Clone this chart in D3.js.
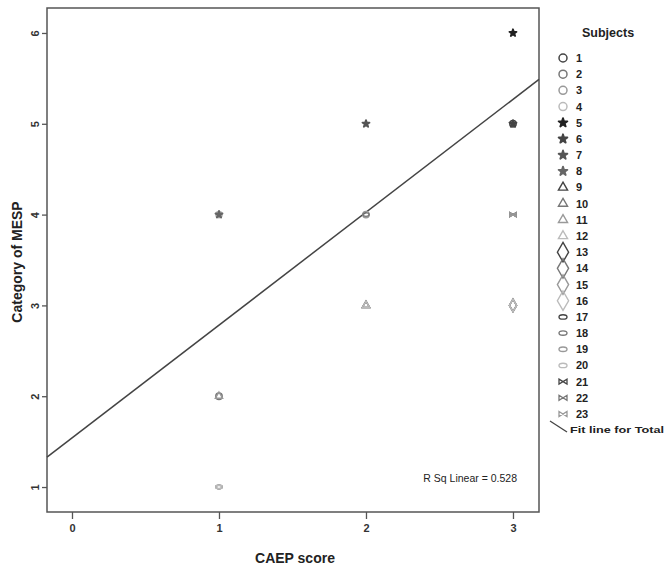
<!DOCTYPE html>
<html>
<head>
<meta charset="utf-8">
<script src="https://d3js.org/d3.v7.min.js"></script>
<style>
body { margin: 0; background: #fff; }
svg { font-family: "Liberation Sans", Arial, sans-serif; }
</style>
</head>
<body>
<svg width="666" height="570"></svg>
<script>
// subjects with their CAEP score and MESP category
var subjects = ["1","2","3","4","5","6","7","8","9","10","11","12","13","14","15","16","17","18","19","20","21","22","23"];
var caep = [3,1,2,1,3,3,2,1,2,2,1,2,3,3,3,3,1,2,1,1,3,3,3];
var mesp = [5,2,4,4,6,5,5,4,3,3,2,3,3,3,3,3,1,4,1,1,4,4,4];
var xTicks = [0,1,2,3];
var yTicks = [1,2,3,4,5,6];
// fit line
var fitIntercept = [1.54];
var fitSlope = [1.243];
var rsq = ["0.528"];

var svg = d3.select("svg");
var pLeft = 47, pRight = 539, pTop = 8, pBottom = 512;

var x = d3.scaleLinear().domain([-0.17, 3.177]).range([pLeft, pRight]);
var y = d3.scaleLinear().domain([0.725, 6.275]).range([pBottom, pTop]);

// marker shape per group of four subjects
var shapeOf = function(i) {
  if (i < 4) return "circle";
  if (i < 8) return "gear";
  if (i < 12) return "triangle";
  if (i < 16) return "diamond";
  if (i < 20) return "ellipse";
  return "bowtie";
};
var shade = function(i) {
  var k = i < 20 ? i % 4 : i - 20;
  if (i >= 4 && i < 8) return ["#222","#444","#555","#666"][k];
  return ["#444","#777","#999","#bbb"][k];
};

function drawMarker(g, i, cx, cy, s) {
  var t = shapeOf(i), c = shade(i);
  if (t == "circle") {
    g.append("circle").attr("cx", cx).attr("cy", cy).attr("r", 4 * s)
      .attr("fill", "none").attr("stroke", c).attr("stroke-width", 1.5);
  } else if (t == "gear") {
    g.append("path").attr("transform", "translate(" + cx + "," + cy + ")")
      .attr("d", d3.symbol().type(d3.symbolStar).size(24 * s * s)())
      .attr("fill", c).attr("stroke", c).attr("stroke-width", 1.8).attr("stroke-linejoin", "round");
  } else if (t == "triangle") {
    g.append("path").attr("transform", "translate(" + cx + "," + cy + ")")
      .attr("d", d3.symbol().type(d3.symbolTriangle).size(36 * s * s)())
      .attr("fill", "none").attr("stroke", c).attr("stroke-width", 1.4);
  } else if (t == "diamond") {
    g.append("path").attr("transform", "translate(" + cx + "," + cy + ")")
      .attr("d", d3.symbol().type(d3.symbolDiamond).size(70 * s * s)())
      .attr("fill", "none").attr("stroke", c).attr("stroke-width", 1.4);
  } else if (t == "ellipse") {
    g.append("ellipse").attr("cx", cx).attr("cy", cy).attr("rx", 4 * s).attr("ry", 2.2 * s)
      .attr("fill", "none").attr("stroke", c).attr("stroke-width", 1.4);
  } else {
    g.append("path").attr("transform", "translate(" + cx + "," + cy + ")")
      .attr("d", "M" + (-4 * s) + "," + (-2.5 * s) + "L" + (4 * s) + "," + (2.5 * s) + "L" + (4 * s) + "," + (-2.5 * s) + "L" + (-4 * s) + "," + (2.5 * s) + "Z")
      .attr("fill", "none").attr("stroke", c).attr("stroke-width", 1.3);
  }
}

// frame
svg.append("rect").attr("x", pLeft).attr("y", pTop)
  .attr("width", pRight - pLeft).attr("height", pBottom - pTop)
  .attr("fill", "#fff").attr("stroke", "#555").attr("stroke-width", 1.5);

// axes
var yAxis = svg.append("g").attr("transform", "translate(" + pLeft + ",0)")
  .call(d3.axisLeft(y).tickValues(yTicks).tickSize(5).tickPadding(3).tickFormat(d3.format("d")));
var xAxis = svg.append("g").attr("transform", "translate(0," + pBottom + ")")
  .call(d3.axisBottom(x).tickValues(xTicks).tickSize(7).tickPadding(5).tickFormat(d3.format("d")));
[xAxis, yAxis].forEach(function(a) {
  a.select(".domain").remove();
  a.selectAll("line").attr("stroke", "#555").attr("stroke-width", 1.3);
  a.selectAll("text").attr("fill", "#333").attr("font-size", 11).attr("font-weight", "bold")
    .attr("font-family", "Liberation Sans, Arial, sans-serif");
});
// SPSS-style sideways y tick labels
yAxis.selectAll(".tick text")
  .attr("x", null).attr("dy", null)
  .attr("text-anchor", "middle")
  .attr("transform", "translate(-12,0) rotate(-90)")
  .attr("y", 4);

// fit line
var fit = [x.domain()[0], x.domain()[1]].map(function(v) { return [v, fitIntercept[0] + fitSlope[0] * v]; });
svg.append("path").attr("d", d3.line().x(function(d) { return x(d[0]); }).y(function(d) { return y(d[1]); })(fit))
  .attr("stroke", "#444").attr("stroke-width", 1.5).attr("fill", "none");

// points
var pts = svg.append("g");
subjects.forEach(function(s, i) {
  drawMarker(pts, i, x(caep[i]), y(mesp[i]), 0.8);
});

svg.append("text").attr("x", 517).attr("y", 482).attr("text-anchor", "end")
  .attr("font-size", 10.5).attr("fill", "#222")
  .text("R Sq Linear = " + rsq[0]);

// axis titles
svg.append("text").attr("x", 295).attr("y", 563).attr("text-anchor", "middle")
  .attr("font-weight", "bold").attr("font-size", 14).attr("fill", "#222").text("CAEP score");
svg.append("text").attr("transform", "translate(22,262) rotate(-90)").attr("text-anchor", "middle")
  .attr("font-weight", "bold").attr("font-size", 14).attr("fill", "#222").text("Category of MESP");

// legend
var lg = svg.append("g");
lg.append("text").attr("x", 582).attr("y", 37).attr("font-weight", "bold").attr("font-size", 12.5)
  .attr("fill", "#222").text("Subjects");
var ly = d3.scalePoint().domain(subjects).range([58, 414]);
subjects.forEach(function(s, i) {
  var big = shapeOf(i) == "diamond" ? 1.25 : 1.0;
  drawMarker(lg, i, 563, ly(s), big);
  lg.append("text").attr("x", 576).attr("y", ly(s) + 4).attr("font-weight", "bold")
    .attr("font-size", 11).attr("fill", "#222").text(s);
});
lg.append("line").attr("x1", 550).attr("y1", 421).attr("x2", 567).attr("y2", 432)
  .attr("stroke", "#444").attr("stroke-width", 1.3);
lg.append("text").attr("x", 570).attr("y", 433).attr("font-weight", "bold")
  .attr("font-size", 9.5).attr("fill", "#222")
  .attr("textLength", 94).attr("lengthAdjust", "spacingAndGlyphs").text("Fit line for Total");
</script>
</body>
</html>
